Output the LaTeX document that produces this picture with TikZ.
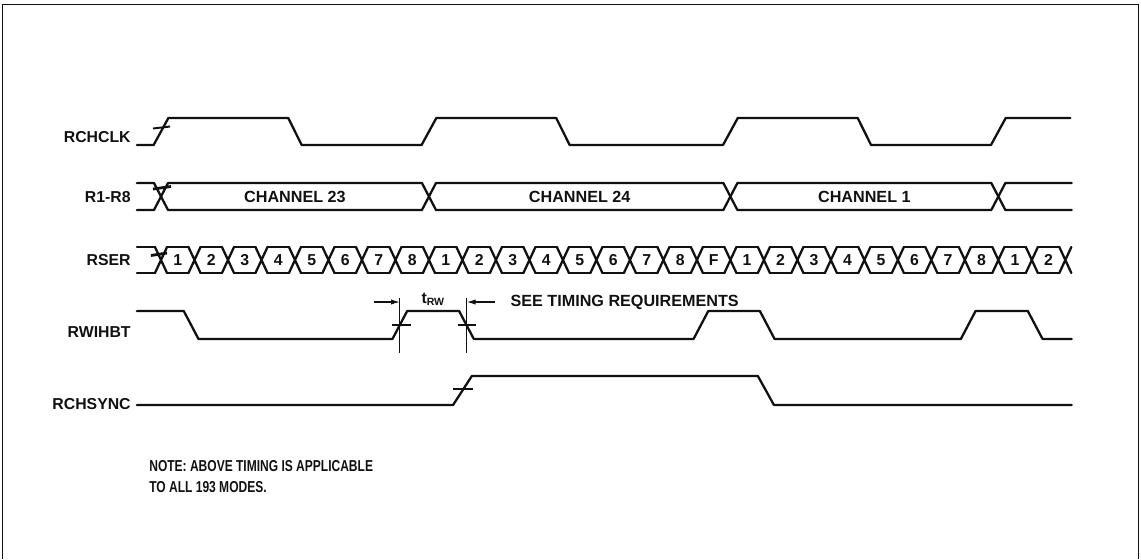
\documentclass[tikz,border=0pt]{standalone}
\usepackage{fontspec}
\setmainfont{Liberation Sans}
\newfontfamily\notefont[FakeStretch=0.76]{Liberation Sans}
\usepackage{xcolor}
\usepackage{tikz}
\usetikzlibrary{positioning, arrows.meta}
\definecolor{inkblack}{HTML}{111111}

\tikzset{
  wave/.style={draw=inkblack, line width=1.3pt, line cap=round, line join=round},
  edgetick/.style={draw=inkblack, line width=1.1pt},
  dimline/.style={draw=inkblack, line width=0.6pt},
  signame/.style={font=\bfseries\fontsize{9}{10}\selectfont, text=inkblack, anchor=east, inner sep=0pt},
  buslabel/.style={font=\bfseries\fontsize{9.2}{10}\selectfont, text=inkblack, inner sep=0pt},
  bitlabel/.style={font=\bfseries\fontsize{9}{10}\selectfont, text=inkblack, inner sep=0pt},
  notetext/.style={font=\notefont\bfseries\fontsize{9}{11.9}\selectfont, text=inkblack, inner sep=0pt, align=left}
}

\begin{document}
\begin{tikzpicture}[x=0.02cm, y=-0.02cm]
  \useasboundingbox (0,0) rectangle (1141,559);
  % frame (open at the bottom)
  \draw[inkblack, line width=0.6pt] (2.5,559) -- (2.5,4.5) -- (1138.5,4.5) -- (1138.5,559);

  % signal names
  \node[signame] (rchclk) at (131,137) {RCHCLK};
  \node[signame] (rbus) at (131,197) {R1-R8};
  \node[signame] (rser) at (131,260) {RSER};
  \node[signame] (rwihbt) at (131,332) {RWIHBT};
  \node[signame] (rchsync) at (131,404) {RCHSYNC};

  % waveforms, x in bit times
  \begin{scope}[shift={(161,0)}, x=0.67cm]
    % RCHCLK
    \draw[wave] (-0.72,145) -- (-0.22,145) -- (0.22,118) -- (3.8,118) -- (4.2,145) -- (7.78,145)
      -- (8.22,118) -- (11.8,118) -- (12.2,145) -- (16.78,145) -- (17.22,118) -- (20.8,118)
      -- (21.2,145) -- (24.78,145) -- (25.22,118) -- (27.15,118);
    \draw[edgetick] (-0.24,128.5) -- (0.27,126.5);

    % R1-R8
    \draw[wave] (-0.72,183) -- (-0.21,183) -- (0.21,210) -- (7.79,210) -- (8.21,183) -- (16.79,183)
      -- (17.21,210) -- (24.79,210) -- (25.21,183) -- (27.19,183);
    \draw[wave] (-0.72,210) -- (-0.21,210) -- (0.21,183) -- (7.79,183) -- (8.21,210) -- (16.79,210)
      -- (17.21,183) -- (24.79,183) -- (25.21,210) -- (27.19,210);
    \draw[edgetick, line width=1.6pt] (-0.24,189) -- (0.3,186.5);
    \node[buslabel] (ch23) at (4,196.5) {CHANNEL 23};
    \node[buslabel] (ch24) at (12.5,196.5) {CHANNEL 24};
    \node[buslabel] (ch1) at (21,196.5) {CHANNEL 1};

    % RSER
    \draw[wave] (-0.72,247) -- (-0.18,247) (-0.72,273) -- (-0.18,273);
    \foreach \c in {0,...,27}
      \draw[wave] (\c-0.18,247) -- (\c+0.18,273) (\c-0.18,273) -- (\c+0.18,247);
    \foreach \b [count=\i from 0] in {1,2,3,4,5,6,7,8,1,2,3,4,5,6,7,8,F,1,2,3,4,5,6,7,8,1,2} {
      \draw[wave] (\i+0.18,247) -- (\i+0.82,247) (\i+0.18,273) -- (\i+0.82,273);
      \node[bitlabel] (bit\i) at (\i+0.5,260) {\b};
    }
    \draw[edgetick, line width=1.6pt] (-0.3,255.5) -- (0.18,253);

    % RWIHBT
    \draw[wave] (-0.72,311) -- (0.68,311) -- (1.12,339) -- (6.91,339) -- (7.35,311) -- (8.9,311)
      -- (9.34,339) -- (15.9,339) -- (16.34,311) -- (17.88,311) -- (18.32,339) -- (23.88,339)
      -- (24.32,311) -- (25.88,311) -- (26.32,339) -- (27.19,339);
    \draw[edgetick] (6.9,325) -- (7.46,325);
    \draw[edgetick] (8.87,325) -- (9.4,325);

    % RCHSYNC
    \draw[wave] (-0.72,405) -- (8.72,405) -- (9.28,376) -- (17.82,376) -- (18.3,405) -- (27.19,405);
    \draw[edgetick] (8.72,389) -- (9.31,389);

    % t_RW
    \coordinate (rwon) at (7.13,298);
    \coordinate (rwoff) at (9.13,298);
    \coordinate (arrhead) at (6.37,302);
    \coordinate (arrtail) at (9.98,302);
    \draw[dimline] (rwon) -- ++(0,55);
    \draw[dimline] (rwoff) -- ++(0,55);
    \draw[dimline, -{Latex[length=5pt, width=3pt]}] (arrhead) -- (rwon |- arrhead);
    \draw[dimline, -{Latex[length=5pt, width=3pt]}] (arrtail) -- (rwoff |- arrtail);
    \node[bitlabel] (trw) at (8.13,299) {t\textsubscript{RW}};
    \node[buslabel, right=0.3cm of arrtail] (seetiming) {SEE TIMING REQUIREMENTS};
  \end{scope}

  % note
  \node[notetext, anchor=north west] (note) at (149,460) {NOTE: ABOVE TIMING IS APPLICABLE\\TO ALL 193 MODES.};
\end{tikzpicture}
\end{document}
